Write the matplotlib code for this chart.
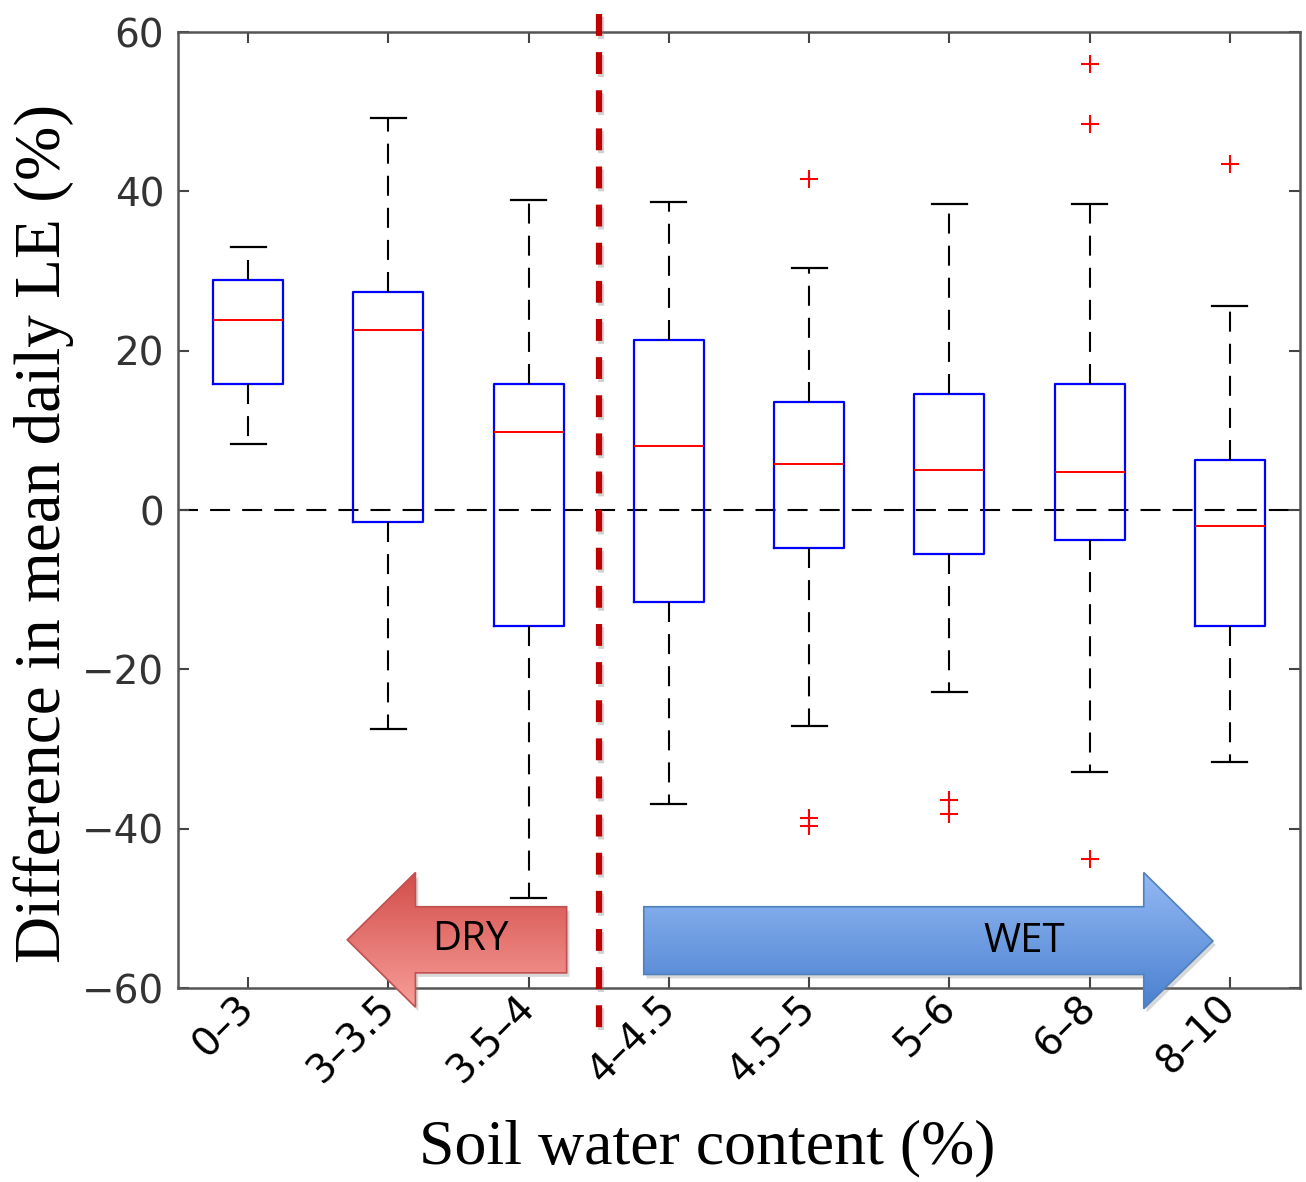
import numpy as np
import matplotlib
matplotlib.use("Agg")
import matplotlib.pyplot as plt
from matplotlib.patches import Polygon
import matplotlib.patheffects as pe
from matplotlib.colors import LinearSegmentedColormap

# Soil water content classes (%)
categories = ["0–3", "3–3.5", "3.5–4", "4–4.5", "4.5–5", "5–6", "6–8", "8–10"]

# Box-plot summary of the difference in mean daily LE (%)
whisker_low = [8.3, -27.5, -48.7, -36.9, -27.1, -22.8, -32.9, -31.6]
q1 = [15.8, -1.5, -14.6, -11.6, -4.8, -5.5, -3.8, -14.6]
median = [23.8, 22.6, 9.8, 8.0, 5.8, 5.0, 4.8, -2.0]
q3 = [28.9, 27.4, 15.8, 21.3, 13.5, 14.6, 15.8, 6.3]
whisker_high = [33.0, 49.2, 38.9, 38.6, 30.4, 38.4, 38.4, 25.6]
outliers = [
    [],
    [],
    [],
    [],
    [41.6, -38.7, -39.7],
    [-36.4, -38.1],
    [56.0, 48.4, -43.8],
    [43.4],
]

yticks = [-60, -40, -20, 0, 20, 40, 60]
dry_wet_boundary = 3.5

fig = plt.figure(figsize=(13.06, 11.82), dpi=100)
ax = fig.add_axes([178 / 1306, 1 - 988 / 1182, 1122 / 1306, 956 / 1182])

stats = []
for i, name in enumerate(categories):
    stats.append(dict(label=name, whislo=whisker_low[i], q1=q1[i], med=median[i],
                      q3=q3[i], whishi=whisker_high[i], fliers=outliers[i]))

positions = np.arange(1, len(categories) + 1)
ax.bxp(stats, positions=positions, widths=0.5, showfliers=True,
       boxprops=dict(color="#0000ff", linewidth=1.6),
       medianprops=dict(color="#ff0000", linewidth=1.4),
       whiskerprops=dict(color="black", linewidth=1.5, linestyle=(0, (9.6, 5.8))),
       capprops=dict(color="black", linewidth=1.6),
       capwidths=0.25,
       flierprops=dict(marker="+", markeredgecolor="#ff0000", markersize=13,
                       markeredgewidth=1.5, linestyle="none"))

# zero reference line
ax.axhline(0, color="black", linewidth=1.5, linestyle=(0, (9.6, 5.8)), zorder=1)

ax.set_xlim(0.5, len(categories) + 0.5)
ax.set_ylim(-60, 60)
ax.set_yticks(yticks)
ax.set_xticks(positions)
ax.set_xticklabels(categories, rotation=45, ha="right", va="center",
                   rotation_mode="anchor", fontsize=28, color="black")
ax.tick_params(axis="y", labelsize=28, labelcolor="#333333")
ax.tick_params(direction="in", length=8, width=1.5, color="#444444",
               top=True, right=True, pad=10)
ax.tick_params(axis="x", pad=10)
for s in ax.spines.values():
    s.set_color("#555555")
    s.set_linewidth(1.8)

# vertical boundary between dry and wet classes
ax.plot([dry_wet_boundary, dry_wet_boundary], [62.2, -65.0], color="#c00000",
        linewidth=4.5, linestyle=(0, (3.5, 2.6)), clip_on=False, zorder=6,
        path_effects=[pe.SimpleLineShadow(offset=(1.5, -1.5), shadow_color="gray", alpha=0.35),
                      pe.Normal()])

ax.set_ylabel("Difference in mean daily LE (%)", family="Liberation Serif", fontsize=47)
ax.yaxis.set_label_coords(-0.093, 0.475)
ax.set_xlabel("Soil water content (%)", family="Liberation Serif", fontsize=46)
ax.xaxis.set_label_coords(0.472, -0.138)


def gradient_arrow(pts, top_color, bottom_color, edge_color, label, label_xy):
    pts = np.asarray(pts)
    shadow = Polygon(pts + np.array([0.02, -0.5]), closed=True, facecolor="gray",
                     edgecolor="none", alpha=0.3, clip_on=False, zorder=7)
    ax.add_patch(shadow)
    poly = Polygon(pts, closed=True, facecolor="none", edgecolor=edge_color,
                   linewidth=1.2, clip_on=False, zorder=9)
    ax.add_patch(poly)
    cmap = LinearSegmentedColormap.from_list("g", [top_color, bottom_color])
    grad = np.linspace(0, 1, 256).reshape(-1, 1)
    xmin, xmax = pts[:, 0].min(), pts[:, 0].max()
    ymin, ymax = pts[:, 1].min(), pts[:, 1].max()
    im = ax.imshow(grad, cmap=cmap, aspect="auto", origin="upper",
                   extent=(xmin, xmax, ymin, ymax), zorder=8, interpolation="bilinear")
    im.set_clip_path(poly)
    im.set_clip_box(fig.bbox)
    ax.text(label_xy[0], label_xy[1], label, family="Open Sans", fontsize=29,
            ha="center", va="center", color="black", zorder=10)


# DRY arrow pointing left
dry = [(1.707, -53.95), (2.193, -45.5), (2.193, -49.8), (3.271, -49.8),
       (3.271, -58.1), (2.193, -58.1), (2.193, -62.4)]
gradient_arrow(dry, "#d24d4a", "#f89e99", "#c0504d", "DRY", (2.586, -54.0))

# WET arrow pointing right
wet = [(3.821, -49.8), (7.386, -49.8), (7.386, -45.5), (7.879, -54.1),
       (7.386, -62.6), (7.386, -58.3), (3.821, -58.3)]
gradient_arrow(wet, "#93b9f4", "#4a80cf", "#4f81bd", "WET", (6.536, -54.2))

ax.set_xlim(0.5, len(categories) + 0.5)
ax.set_ylim(-60, 60)

fig.savefig("out.png", dpi=100)
